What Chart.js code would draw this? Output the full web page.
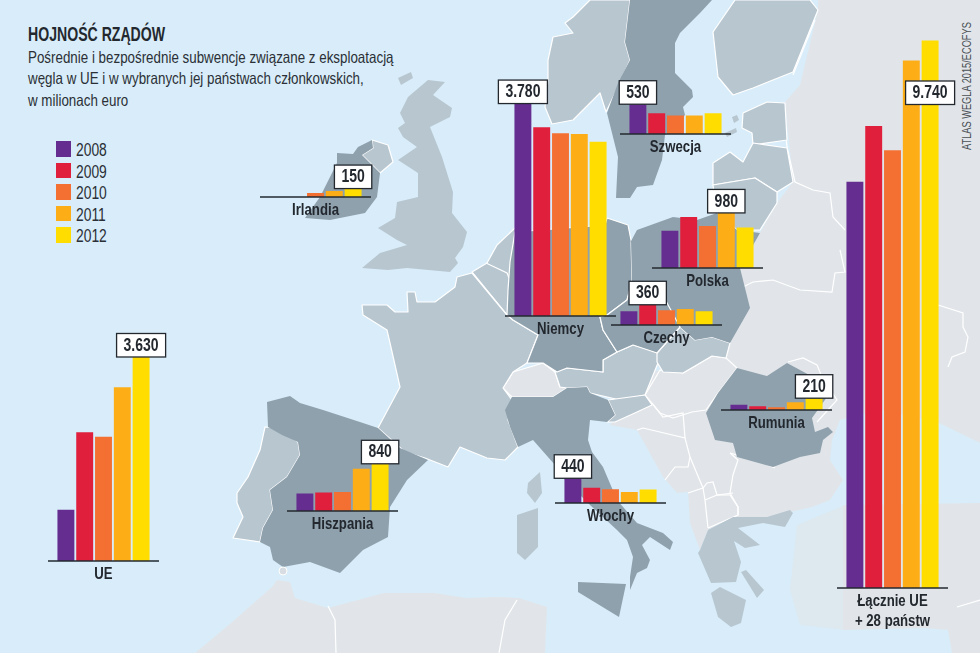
<!DOCTYPE html>
<html lang="pl">
<head>
<meta charset="utf-8">
<title>Hojność rządów</title>
<script src="https://cdn.jsdelivr.net/npm/chart.js@4"></script>
<style>
    html, body { margin: 0; padding: 0; }
    body { width: 980px; height: 653px; position: relative; overflow: hidden; background: #d8edf9;
           font-family: "Liberation Sans", sans-serif; color: #2b2f36; }
    #map { position: absolute; left: 0; top: 0; }
    #map polygon { stroke: #fff; stroke-width: 1.2; stroke-linejoin: round; }
    #map polyline { fill: none; stroke: #fff; stroke-width: 1.2; }
    #map .d { fill: #8fa1ad; }
    #map .m { fill: #b8c6d0; }
    #map .l { fill: #e1e5e9; }
    #map .n { stroke: none; }
    #map .p { fill: #dde8ef; stroke: none; }
    canvas { position: absolute; }
    h1, #sub, #legend span { transform-origin: 0 0; }
    h1 { position: absolute; left: 28px; top: 22px; margin: 0; font-size: 20px; line-height: 24px; font-weight: 700;
         color: #23282f; white-space: nowrap; transform: scaleX(0.705); }
    #sub { position: absolute; left: 28px; top: 47px; font-size: 16.5px; line-height: 21.3px; white-space: nowrap;
           transform: scaleX(0.81); }
    #legend { position: absolute; left: 56px; top: 141px; }
    #legend div { height: 21.5px; position: relative; }
    #legend i { position: absolute; left: 0; top: 0; width: 14.5px; height: 15.5px; }
    #legend span { position: absolute; left: 19.5px; top: -1px; font-size: 18px; line-height: 20px; transform: scaleX(0.77); }
    #source { position: absolute; left: 961px; top: 150px; font-size: 12.5px; line-height: 13px; white-space: nowrap;
              color: #4a4f55; transform-origin: 0 0; transform: rotate(-90deg) scaleX(0.74); }
</style>
</head>
<body>
<!-- tło: uproszczona mapa Europy -->
<svg id="map" width="980" height="653">
    <!-- poza UE -->
    <polygon class="l n" points="800,85 818,10 818,0 980,0 980,443 939,423 880,410 840,420 832,440 830,460 843,480 830,500 812,507 790,512 767,517 733,517 708,530 700,550 690,523 688,492 677,493 663,477 637,430 610,425 625,400 650,372 720,360 730,343 740,268 760,233 777,203 793,182 785,102"/>
    <polygon class="p" points="797,525 845,505 845,630 800,625 790,590"/>
    <polygon class="l n" points="843,505 980,503 980,653 952,653 948,630 925,628 843,630"/>
    <polygon class="l n" points="195,653 231,623 272,587 277,580 290,582 295,598 328,608 384,593 435,593 466,598 496,597 519,598 547,607 545,653"/>
    <polyline points="328,606 335,620 336,653"/>
    <polyline points="517,600 505,620 499,653"/>
    <polyline points="815,20 793,75"/>
    <polyline points="783,107 787,147 795,182 813,190 830,193 833,217 845,230"/>
    <polyline points="743,287 753,282 773,280 800,290 832,292 835,273 845,272 840,250"/>
    <polyline points="938,305 963,313 963,327 968,337 965,352 952,357 948,367"/>
    <polyline points="788,362 803,358 817,365 822,377 837,400 817,422"/>
    <polyline points="957,607 980,600"/>
    <polygon class="l" points="503,388 513,372 543,363 555,372 560,387 567,388 553,397 543,397 512,397"/>
    <polygon class="l" points="645,395 660,370 683,373 712,356 726,358 737,368 718,393 706,410 692,412 673,418 660,413"/>
    <polyline points="637,430 643,428 685,438 690,457 688,467 675,467 665,480"/>
    <polyline points="652,403 663,417 683,413 685,438"/>
    <polyline points="690,457 703,488 707,483 713,482 717,495 733,493"/>
    <polyline points="730,453 738,460 733,475 730,493 738,507 738,515"/>
    <polyline points="688,493 703,488 705,500 708,528"/>
    <polyline points="705,500 717,495 730,495 738,507 738,515 708,528"/>
    <polyline points="730,453 763,463 775,468"/>
    <!-- UE -->
    <polygon class="m" points="590,0 573,17 565,23 573,33 553,37 548,60 548,80 545,107 552,124 573,120 600,93 606,112 618,87 630,60 625,42 630,0"/>
    <polygon class="m" points="735,0 713,32 718,77 733,95 753,88 793,72 818,10 810,0"/>
    <polygon class="m" points="743,113 767,102 785,103 787,140 753,145 752,133 742,128"/>
    <polygon class="m" points="713,163 730,152 743,162 753,143 787,148 793,182 777,192 755,178 713,185"/>
    <polygon class="m" points="713,185 755,178 777,192 777,203 760,230 737,230 717,213"/>
    <polygon class="m n" points="428,80 445,82 433,95 452,108 450,117 430,127 442,157 453,192 452,213 467,232 463,247 455,258 458,263 450,272 407,268 388,270 362,268 380,253 407,245 397,240 378,228 395,218 397,202 418,197 418,173 398,160 417,147 403,137 398,128 405,123 400,113 408,97"/>
    <polygon class="m n" points="398,78 411,72 413,78 401,85"/>
    <polygon class="m" points="372,140 388,145 393,162 380,173 362,155 373,148"/>
    <polygon class="m" points="472,272 487,263 497,245 515,228 522,232 514,320 507,315"/>
    <polyline points="486,263 507,273 515,292"/>
    <polygon class="m" points="472,273 507,315 513,320 538,335 527,363 513,372 503,388 512,400 508,420 518,447 505,460 487,458 460,447 448,467 425,458 405,452 378,428 400,387 390,343 387,330 363,315 362,305 387,305 395,312 408,312 407,292 415,292 417,302 435,302 455,287 457,277"/>
    <polygon class="m" points="265,427 278,428 298,442 300,455 287,477 270,490 273,510 263,528 260,542 233,538 243,517 237,503 237,493 248,477 260,450"/>
    <polygon class="m" points="555,372 567,368 603,372 603,360 617,352 633,345 657,352 660,358 645,395 620,400 590,393 587,387 567,388 560,387"/>
    <polygon class="m" points="608,400 645,395 652,405 637,412 615,422 607,422 615,415"/>
    <polygon class="m" points="657,353 680,327 695,340 712,337 730,343 726,358 712,356 683,373 663,372 657,362"/>
    <polygon class="m n" points="708,530 733,517 767,517 790,510 793,513 785,527 763,523 738,528 760,545 745,548 734,541 741,562 736,582 711,583 698,553 700,550"/>
    <polygon class="m n" points="711,593 720,587 746,600 741,623 731,627 718,617"/>
    <polygon class="m n" points="741,572 746,570 764,590 757,598"/>
    <polygon class="m n" points="528,483 540,472 542,493 535,503 527,493"/>
    <polygon class="m n" points="517,515 538,508 538,547 525,560 517,553"/>
    <polygon class="m n" points="732,117 737,115 739,120 734,123"/>
    <polygon class="m n" points="725,133 736,128 737,132 727,137"/>
    <!-- kraje z wykresem -->
    <polygon class="d n" points="630,0 712,0 700,13 680,33 675,43 675,73 692,90 693,97 683,107 685,115 665,135 662,160 653,185 637,187 630,198 616,198 617,177 618,157 607,113 618,83 630,60 625,42"/>
    <polygon class="d n" points="358,147 372,140 373,148 362,155 380,173 377,197 365,213 330,220 305,218 320,197 330,177 337,163 337,153 353,154"/>
    <polygon class="d" points="515,232 510,262 508,290 507,315 513,320 538,335 527,363 543,363 557,372 567,368 603,372 603,360 617,352 603,330 600,317 607,315 627,300 632,280 631,240 630,235 628,225 607,218 605,225"/>
    <polygon class="d n" points="630,243 637,230 673,217 697,220 717,213 737,230 760,233 740,268 750,308 730,343 712,337 695,340 680,327 660,325 632,285 631,240"/>
    <polygon class="d" points="627,300 632,285 660,290 680,327 657,353 633,345 617,352 603,330 600,317 607,315"/>
    <polygon class="d n" points="512,397 543,397 553,397 567,388 587,387 590,393 608,400 615,415 607,422 590,420 588,440 592,452 603,467 617,500 637,523 663,533 673,542 670,550 650,537 642,545 650,560 647,568 637,573 630,590 630,577 633,557 627,540 617,530 590,505 565,480 555,465 533,440 518,447 510,427 505,410"/>
    <polygon class="d n" points="578,582 626,584 619,617 578,592"/>
    <polygon class="d n" points="267,402 290,396 300,403 323,410 363,423 378,428 400,448 428,460 407,480 390,507 388,537 363,550 340,573 310,562 283,567 273,560 270,547 260,542 263,528 273,510 270,490 287,477 300,455 298,442 282,435 268,427"/>
    <polygon class="d n" points="737,368 767,376 787,363 813,377 827,397 812,418 815,432 828,427 833,432 823,440 820,453 800,457 773,467 737,457 733,443 715,440 706,413 718,393"/>
    <circle cx="283" cy="571" r="4" fill="#d7dde2" stroke="#fff"/>
</svg>

<h1>HOJNOŚĆ RZĄDÓW</h1>
<div id="sub">Pośrednie i bezpośrednie subwencje związane z eksploatacją<br>węgla w UE i w wybranych jej państwach członkowskich,<br>w milionach euro</div>
<div id="legend"></div>
<div id="source">ATLAS WEGLA 2015/ECOFYS</div>

<script>
// ── Dane: subwencje w mln euro, po jednej wartości na rok ──────────────────

const years = ["2008", "2009", "2010", "2011", "2012"];
const barColors = ["#662d91", "#e01f3d", "#f37032", "#fdae17", "#ffdd00"];

const ueValues = [910, 2290, 2210, 3090, 3630];
const irlandiaValues = [0, 0, 70, 105, 150];
const niemcyValues = [3780, 3360, 3250, 3240, 3100];
const szwecjaValues = [530, 368, 327, 327, 368];
const polskaValues = [665, 909, 748, 980, 719];
const czechyValues = [244, 360, 261, 285, 244];
const hiszpaniaValues = [310, 330, 340, 750, 840];
const wlochyValues = [440, 273, 244, 196, 238];
const rumuniaValues = [95, 65, 48, 137, 210];
const lacznieValues = [7230, 8220, 7790, 9385, 9740];

// ── Układ: każdy panel to osobny wykres, wszystkie w tej samej skali ───────

const PX_PER_MEUR = 0.0562;
const PITCH = 18.8;        // odstęp słupków
const AXIS_OVERHANG = 8.5; // linia bazowa wystaje poza słupki
const MARGIN = 16;         // miejsce na ramkę z wartością
const LINE = 20;
const INK = "#23282f";
const FONT = "'Liberation Sans', sans-serif";
const NARROW = 0.8;        // brak fontu wąskiego, więc ścieśniamy tekst

const panels = [
    { label: ["UE"], values: ueValues, left: 48, base: 561 },
    { label: ["Irlandia"], values: irlandiaValues, left: 260, base: 197 },
    { label: ["Niemcy"], values: niemcyValues, left: 505, base: 316 },
    { label: ["Szwecja"], values: szwecjaValues, left: 620, base: 134 },
    { label: ["Polska"], values: polskaValues, left: 652, base: 268 },
    { label: ["Czechy"], values: czechyValues, left: 611, base: 324.5 },
    { label: ["Hiszpania"], values: hiszpaniaValues, left: 287, base: 511 },
    { label: ["Włochy"], values: wlochyValues, left: 554.5, base: 503 },
    { label: ["Rumunia"], values: rumuniaValues, left: 721, base: 409.5 },
    { label: ["Łącznie UE", "+ 28 państw"], values: lacznieValues, left: 837, base: 587.5, boxBottom: 104 },
];

function formatValue(v) {
    return String(v).replace(/\B(?=(\d{3})+$)/g, ".");
}

function narrowText(ctx, text, x, y) {
    ctx.save();
    ctx.translate(x, y);
    ctx.scale(NARROW, 1);
    ctx.fillText(text, 0, 0);
    ctx.restore();
}

// linia bazowa, nazwa kraju i ramka z najwyższą wartością
const panelDecor = {
    id: "panelDecor",
    afterDatasetsDraw(chart, args, opts) {
        const { ctx, chartArea } = chart;
        const values = chart.data.datasets[0].data;
        const peak = Math.max(...values);
        const bar = chart.getDatasetMeta(0).data[values.indexOf(peak)];

        ctx.save();
        ctx.strokeStyle = INK;
        ctx.lineWidth = 1.4;
        ctx.beginPath();
        ctx.moveTo(chartArea.left - AXIS_OVERHANG, chartArea.bottom);
        ctx.lineTo(chartArea.right + AXIS_OVERHANG, chartArea.bottom);
        ctx.stroke();

        ctx.textAlign = "center";
        ctx.textBaseline = "middle";
        ctx.fillStyle = INK;
        ctx.font = "700 16.5px " + FONT;
        opts.label.forEach((line, i) => {
            narrowText(ctx, line, (chartArea.left + chartArea.right) / 2, chartArea.bottom + 13.5 + i * LINE);
        });

        const text = formatValue(peak);
        ctx.font = "700 17.5px " + FONT;
        const w = ctx.measureText(text).width * NARROW + 14;
        const h = 23.5;
        const bottom = opts.boxBottom != null ? chartArea.bottom - (opts.base - opts.boxBottom) : bar.y;
        ctx.fillStyle = "#fff";
        ctx.fillRect(bar.x - w / 2, bottom - h, w, h);
        ctx.lineWidth = 1.3;
        ctx.strokeRect(bar.x - w / 2, bottom - h, w, h);
        ctx.fillStyle = INK;
        narrowText(ctx, text, bar.x, bottom - h / 2 + 0.5);
        ctx.restore();
    },
};

// ── Rysowanie ──────────────────────────────────────────────────────────────

const legend = document.getElementById("legend");
years.forEach((year, i) => {
    const row = document.createElement("div");
    row.innerHTML = '<i style="background:' + barColors[i] + '"></i><span>' + year + "</span>";
    legend.appendChild(row);
});

panels.forEach((panel) => {
    const plotHeight = Math.ceil(Math.max(...panel.values) * PX_PER_MEUR) + 30;
    const axisHeight = 8 + LINE * panel.label.length;
    const side = MARGIN + AXIS_OVERHANG;

    const canvas = document.createElement("canvas");
    canvas.width = PITCH * years.length + 2 * side;
    canvas.height = plotHeight + axisHeight;
    canvas.style.left = panel.left - MARGIN + "px";
    canvas.style.top = panel.base - plotHeight + "px";
    document.body.appendChild(canvas);

    new Chart(canvas, {
        type: "bar",
        plugins: [panelDecor],
        data: {
            labels: years,
            datasets: [
                {
                    data: panel.values,
                    backgroundColor: barColors,
                    barPercentage: 0.9,
                    categoryPercentage: 1,
                },
            ],
        },
        options: {
            responsive: false,
            animation: false,
            events: [],
            layout: { autoPadding: false, padding: { left: side, right: side, top: 0, bottom: axisHeight } },
            plugins: {
                legend: { display: false },
                tooltip: { enabled: false },
                panelDecor: { label: panel.label, boxBottom: panel.boxBottom, base: panel.base },
            },
            scales: {
                x: { display: false },
                y: {
                    display: false,
                    min: 0,
                    max: plotHeight / PX_PER_MEUR,
                },
            },
        },
    });
});
</script>
</body>
</html>
